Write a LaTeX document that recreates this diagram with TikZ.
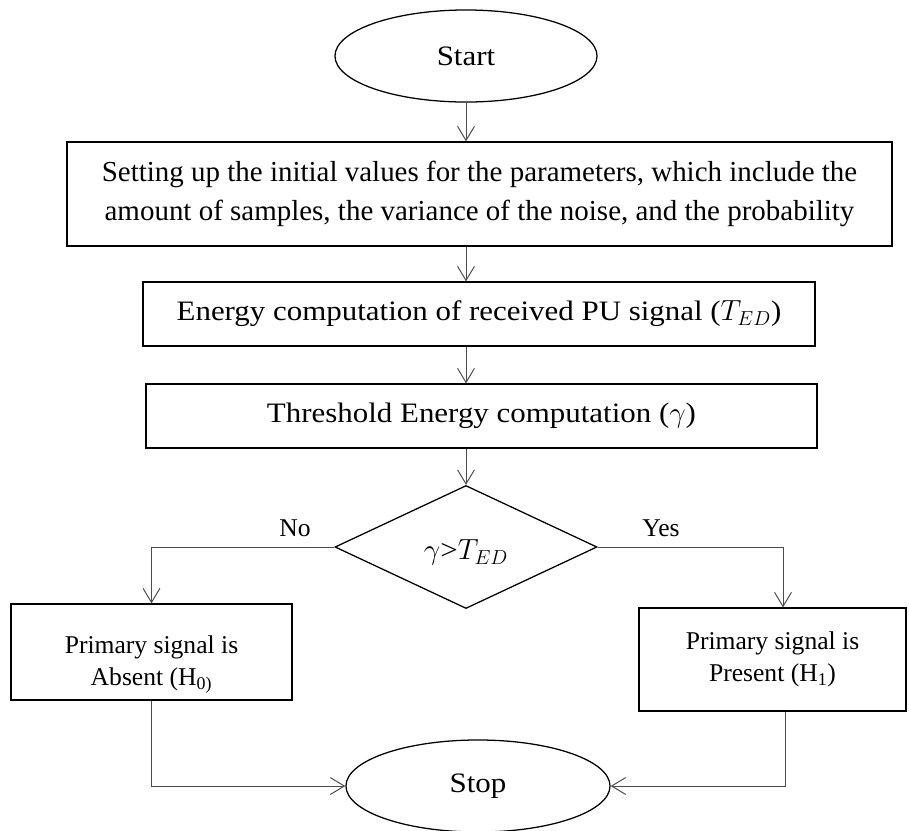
\documentclass[tikz,border=0pt]{standalone}
\usepackage{fontspec}
\setmainfont{Liberation Serif}
\newfontfamily\cambriafont[FakeStretch=1.1]{Liberation Serif}
\usetikzlibrary{arrows.meta,shapes.geometric}
\usetikzlibrary{positioning}

\begin{document}
\begin{tikzpicture}[x=0.025cm,y=-0.025cm,
  box/.style={rectangle,draw=black,line width=0.9pt,align=center,inner sep=0pt},
  cbox/.style={font=\cambriafont\fontsize{20}{24}\selectfont},
  tbox/.style={font=\fontsize{18.2}{22.8}\selectfont},
  term/.style={ellipse,draw=black,line width=0.9pt,minimum width=6.55cm,minimum height=2.3cm,inner sep=0pt,cbox},
  flow/.style={draw=black!70,line width=0.7pt,-{Straight Barb[length=10pt,width=12pt]}}]
\useasboundingbox (0,0) rectangle (909,830);
\node at (466,56)[term](start){Start};
\node at (479.5,194)[box,minimum width=20.625cm,minimum height=2.6cm,font=\fontsize{20.6}{27.7}\selectfont](setup){Setting up the initial values for the parameters, which include the\\amount of samples, the variance of the noise, and the probability};
\node at (479,314)[box,cbox,minimum width=16.8cm,minimum height=1.6cm](energy){Energy computation of received PU signal ($T_{ED}$)};
\node at (481.5,416)[box,cbox,minimum width=16.775cm,minimum height=1.6cm](thresh){Threshold Energy computation ($\gamma$)};
\node at (466,547)[diamond,draw=black,line width=0.9pt,aspect=2.13,minimum width=6.55cm,minimum height=3.075cm,inner sep=0pt,cbox](dec){\rule{0pt}{22pt}$\gamma$>$T_{ED}$};
\node at (151.5,652)[box,tbox,minimum width=7.025cm,minimum height=2.4cm](absent){\rule{0pt}{31pt}Primary signal is\\Absent (H\textsubscript{0)}};
\node at (772.5,659.5)[box,tbox,minimum width=6.675cm,minimum height=2.575cm](present){Primary signal is\\Present (H\textsubscript{1})};
\node at (478,786)[term,minimum width=6.6cm](stop){Stop};
\node at (295,528)[tbox](no){No};
\node at (661,528)[tbox](yes){Yes};
\coordinate (yb) at (783,547);
\coordinate (rb) at (785,791);
% main column
\draw[flow] (start) -- (start |- setup.north);
\draw[flow] (setup.south -| start) -- (energy.north -| start);
\draw[flow] (energy.south -| start) -- (thresh.north -| start);
\draw[flow] (thresh.south -| start) -- (dec.north);
% decision branches
\draw[flow] (dec.west) -| (absent.north);
\draw[flow] (dec.east) -| (present.north -| yb);
\draw[flow] (absent.south) |- (stop.west);
\draw[flow] (present.south -| rb) |- (stop.east);
\end{tikzpicture}
\end{document}
